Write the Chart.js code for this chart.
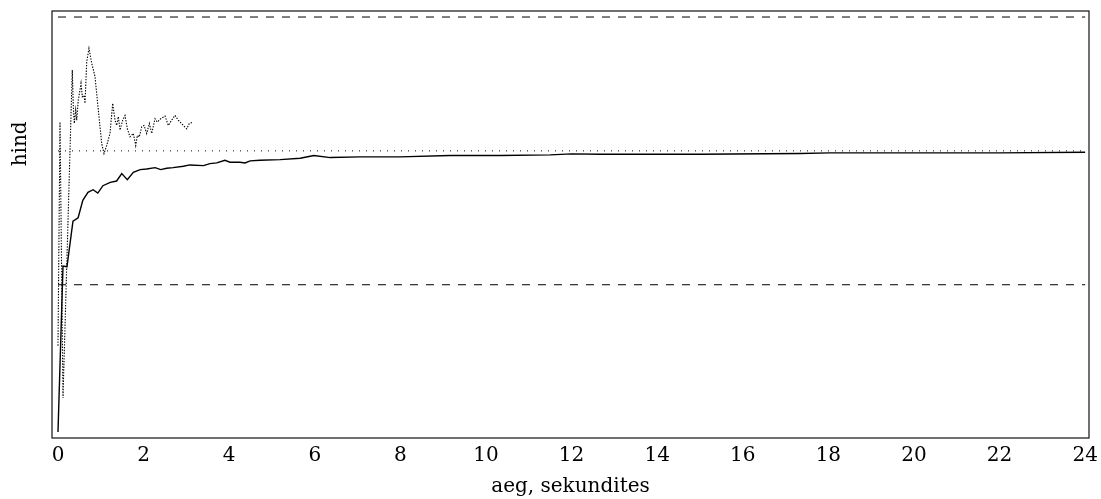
<!DOCTYPE html>
<html>
<head>
<meta charset="utf-8">
<script src="https://cdn.jsdelivr.net/npm/chart.js@4/dist/chart.umd.min.js"></script>
<style>
  html, body { margin: 0; padding: 0; background: #fff; }
  #wrap { width: 1101px; height: 499px; }
</style>
</head>
<body>
<div id="wrap"><canvas id="priceChart" width="1101" height="499"></canvas></div>
<script>
// price estimate over time, two estimators + true price and band

// solid estimate (seconds / price)
const timesA = [0, 0.117, 0.21, 0.35, 0.47, 0.58, 0.70, 0.82, 0.93, 1.05, 1.22, 1.37, 1.49, 1.62,
    1.76, 1.92, 2.07, 2.27, 2.40, 2.54, 2.69, 2.93, 3.08, 3.40, 3.55, 3.71, 3.90, 4.02, 4.25,
    4.37, 4.49, 4.72, 5.19, 5.66, 5.98, 6.36, 7.06, 7.99, 9.16, 10.33, 11.50, 12.0, 12.67,
    15.0, 17.34, 18.04, 19.68, 22.0, 24.0];
const priceA = [5.80, 8.28, 8.27, 8.95, 9.00, 9.26, 9.38, 9.42, 9.37, 9.48, 9.53, 9.55, 9.66, 9.57,
    9.68, 9.72, 9.73, 9.75, 9.72, 9.74, 9.75, 9.77, 9.79, 9.78, 9.81, 9.82, 9.86, 9.83, 9.83,
    9.82, 9.85, 9.86, 9.87, 9.89, 9.93, 9.90, 9.91, 9.91, 9.93, 9.93, 9.94, 9.955, 9.95,
    9.95, 9.96, 9.97, 9.97, 9.97, 9.98];

// dotted estimate, only the first ~3 seconds
const timesB = [0, 0.047, 0.117, 0.334, 0.358, 0.381, 0.414, 0.437, 0.474, 0.514, 0.538, 0.568,
    0.608, 0.631, 0.671, 0.724, 0.788, 0.865, 0.942, 1.021, 1.075, 1.138, 1.215, 1.278, 1.332,
    1.372, 1.409, 1.449, 1.512, 1.566, 1.620, 1.683, 1.760, 1.816, 1.853, 1.900, 1.956, 2.010,
    2.073, 2.134, 2.190, 2.267, 2.321, 2.400, 2.501, 2.578, 2.657, 2.734, 2.811, 2.928, 3.008,
    3.068, 3.162];
const priceB = [7.09, 10.43, 6.31, 11.21, 10.66, 10.41, 10.61, 10.46, 10.76, 10.91, 11.01, 10.81,
    10.83, 10.71, 11.33, 11.53, 11.31, 11.11, 10.61, 10.11, 9.96, 10.08, 10.26, 10.71, 10.46,
    10.38, 10.51, 10.31, 10.46, 10.53, 10.33, 10.21, 10.26, 10.08, 10.23, 10.21, 10.36, 10.38,
    10.26, 10.41, 10.26, 10.48, 10.43, 10.48, 10.52, 10.38, 10.46, 10.53, 10.46, 10.38, 10.33,
    10.41, 10.43];

const truePrice = 10;
const bandUpper = 12;
const bandLower = 8;
const xTicks = [0, 2, 4, 6, 8, 10, 12, 14, 16, 18, 20, 22, 24];
const xSpan = [0, 24];

const FONT = { family: "'DejaVu Serif', serif", size: 20 };

const toPoints = (xs, ys) => xs.map((x, i) => ({ x, y: ys[i] }));
const flat = level => xSpan.map(x => ({ x, y: level }));

// frame round the plot + rotated y title next to the true price level
const framePlugin = {
    id: "frame",
    afterDraw(chart) {
        const { ctx, chartArea: a, scales } = chart;
        ctx.save();
        ctx.strokeStyle = "#111";
        ctx.lineWidth = 1.2;
        ctx.strokeRect(a.left, a.top, a.right - a.left, a.bottom - a.top);
        ctx.fillStyle = "#000";
        ctx.font = `${FONT.size}px ${FONT.family}`;
        ctx.textAlign = "center";
        ctx.textBaseline = "middle";
        ctx.translate(a.left - 31, scales.y.getPixelForValue(truePrice) - 7);
        ctx.rotate(-Math.PI / 2);
        ctx.fillText("hind", 0, 0);
        ctx.restore();
    }
};

const lineBase = { pointRadius: 0, tension: 0, fill: false };

new Chart(document.getElementById("priceChart"), {
    type: "line",
    data: {
        datasets: [
            { ...lineBase, data: toPoints(timesA, priceA), borderColor: "#000", borderWidth: 1.4 },
            { ...lineBase, data: toPoints(timesB, priceB), borderColor: "#000", borderWidth: 1.1, borderDash: [1.4, 1.4] },
            { ...lineBase, data: flat(bandUpper), borderColor: "#000", borderWidth: 1, borderDash: [8, 8] },
            { ...lineBase, data: flat(bandLower), borderColor: "#000", borderWidth: 1, borderDash: [8, 8] },
            { ...lineBase, data: flat(truePrice), borderColor: "#000", borderWidth: 1, borderDash: [1, 6] },
        ]
    },
    options: {
        responsive: false,
        animation: false,
        devicePixelRatio: 1,
        layout: { padding: { left: 52, right: 12, top: 11, bottom: 0 } },
        plugins: { legend: { display: false }, tooltip: { enabled: false } },
        scales: {
            x: {
                type: "linear",
                min: -0.14,
                max: 24.09,
                afterBuildTicks: s => { s.ticks = xTicks.map(v => ({ value: v })); },
                // don't let the edge labels push the plot inward
                afterFit: s => { s.paddingLeft = 0; s.paddingRight = 0; },
                ticks: { color: "#000", font: FONT, padding: 6, maxRotation: 0, autoSkip: false },
                grid: { display: false, drawTicks: false },
                border: { display: false },
                title: { display: true, text: "aeg, sekundites", color: "#000", font: FONT, padding: { top: 1, bottom: 0 } },
            },
            y: {
                type: "linear",
                display: false,
                min: 5.71,
                max: 12.09,
            }
        }
    },
    plugins: [framePlugin]
});
</script>
</body>
</html>
